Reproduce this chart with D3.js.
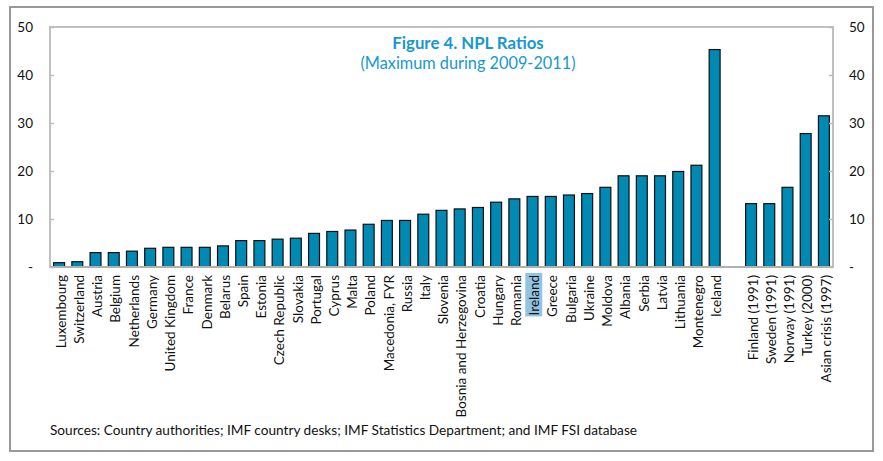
<!DOCTYPE html>
<html>
<head>
<meta charset="utf-8">
<script src="https://cdn.jsdelivr.net/npm/d3@7"></script>
<style>
  html, body { margin: 0; padding: 0; background: #fff; }
  svg { display: block; font-family: Lato, "Open Sans", sans-serif; }
</style>
</head>
<body>
<svg id="chart" width="883" height="461"></svg>
<script>
// ---- data ----
const countries = ["Luxembourg","Switzerland","Austria","Belgium","Netherlands","Germany","United Kingdom","France","Denmark","Belarus","Spain","Estonia","Czech Republic","Slovakia","Portugal","Cyprus","Malta","Poland","Macedonia, FYR","Russia","Italy","Slovenia","Bosnia and Herzegovina","Croatia","Hungary","Romania","Ireland","Greece","Bulgaria","Ukraine","Moldova","Albania","Serbia","Latvia","Lithuania","Montenegro","Iceland"];
const countryValues = [0.9,1.1,3.0,3.0,3.3,3.9,4.1,4.1,4.1,4.4,5.5,5.5,5.8,6.0,7.0,7.4,7.7,8.9,9.7,9.7,11.0,11.8,12.1,12.4,13.5,14.2,14.7,14.7,15.0,15.3,16.6,19.0,19.0,19.0,19.9,21.2,45.3];
const crises = ["Finland (1991)","Sweden (1991)","Norway (1991)","Turkey (2000)","Asian crisis (1997)"];
const crisisValues = [13.2,13.2,16.6,27.8,31.5];
const yTicks = [0,10,20,30,40,50];
const highlighted = "Ireland";
const titleText = "Figure 4. NPL Ratios";
const subtitleText = "(Maximum during 2009-2011)";
const sourceText = "Sources:  Country authorities; IMF country desks; IMF Statistics Department; and IMF FSI database";

const gapKey = "__gap__";
const domain = countries.concat([gapKey], crises);
const bars = countries.map((c,i)=>({c, v: countryValues[i]}))
  .concat(crises.map((c,i)=>({c, v: crisisValues[i]})));

// ---- layout ----
const svg = d3.select("#chart");
const L = 50, R = 833, T = 27, B = 267;

// outer frame
svg.append("rect").attr("x",10).attr("y",7).attr("width",863).attr("height",444)
  .attr("fill","none").attr("stroke","#999").attr("stroke-width",2);

const x = d3.scaleBand().domain(domain).range([L, R]).paddingInner(0.4).paddingOuter(0.2);
const y = d3.scaleLinear().domain([0,50]).range([B, T]);

// plot frame
svg.append("rect").attr("x",L).attr("y",T).attr("width",R-L).attr("height",B-T)
  .attr("fill","none").attr("stroke","#c0c0c0").attr("stroke-width",2);

// bars
svg.append("g").selectAll("rect").data(bars).join("rect")
  .attr("x", d=>x(d.c)).attr("width", x.bandwidth())
  .attr("y", d=>y(d.v)).attr("height", d=>y(0)-y(d.v))
  .attr("fill","#0089b2").attr("stroke","#111").attr("stroke-width",1.2);

// bottom axis line
svg.append("line").attr("x1",L).attr("x2",R).attr("y1",B).attr("y2",B)
  .attr("stroke","#b0b0b0").attr("stroke-width",2);

// y axes
const fmt = d => d === 0 ? "-" : d;
const yl = svg.append("g").attr("transform",`translate(${L},0)`)
  .call(d3.axisLeft(y).tickValues(yTicks).tickFormat(fmt).tickSize(-4).tickPadding(17));
const yr = svg.append("g").attr("transform",`translate(${R},0)`)
  .call(d3.axisRight(y).tickValues(yTicks).tickFormat(fmt).tickSize(-4).tickPadding(16));
[yl, yr].forEach(g => {
  g.select(".domain").remove();
  g.selectAll(".tick line").attr("stroke","#bbb").attr("stroke-width",1.5);
  g.selectAll(".tick text").attr("fill","#111").style("font-size","13.5px").style("font-family","Lato, sans-serif");
});

// category labels
const xa = svg.append("g").attr("transform",`translate(0,${B})`)
  .call(d3.axisBottom(x).tickSize(0).tickFormat(d => d === gapKey ? "" : d));
xa.select(".domain").remove();
xa.selectAll(".tick text")
  .attr("transform","rotate(-90)")
  .attr("x",-8).attr("y",2).attr("dy","0.35em")
  .style("text-anchor","end")
  .style("font-size","13.5px")
  .style("font-family","Lato, sans-serif")
  .attr("fill","#111");

// highlight label
xa.selectAll(".tick").filter(d => d === highlighted).each(function(){
  const t = d3.select(this).select("text");
  const bb = t.node().getBBox();
  d3.select(this).insert("rect","text")
    .attr("transform","rotate(-90)")
    .attr("x", bb.x - 1).attr("y", bb.y - 1)
    .attr("width", bb.width + 3).attr("height", bb.height + 1)
    .attr("fill","#93c3e2");
});

// titles
svg.append("text").attr("x",468).attr("y",49).attr("text-anchor","middle")
  .attr("fill","#1798cf").style("font-weight","bold").style("font-size","16.8px")
  .text(titleText);
svg.append("text").attr("x",468).attr("y",69).attr("text-anchor","middle")
  .attr("fill","#1798cf").style("font-size","16.3px")
  .text(subtitleText);

// source
svg.append("text").attr("x",50).attr("y",435)
  .attr("fill","#111").style("font-size","13px")
  .attr("textLength",587).attr("lengthAdjust","spacingAndGlyphs")
  .text(sourceText);
</script>
</body>
</html>
